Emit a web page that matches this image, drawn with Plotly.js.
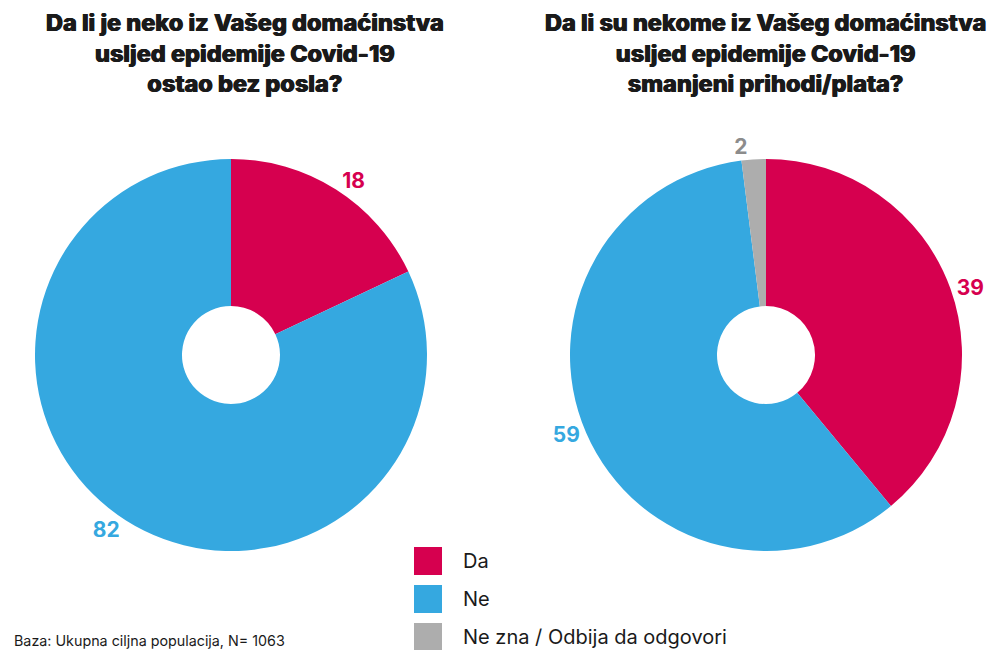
<!DOCTYPE html>
<html>
<head>
<meta charset="utf-8">
<script src="https://cdn.plot.ly/plotly-3.0.1.min.js"></script>
<style>html,body{margin:0;padding:0;background:#fff;}#chart{width:993px;height:650px;}</style>
</head>
<body>
<div id="chart"></div>
<script>
const leftTitle = 'Da li je neko iz Vašeg domaćinstva<br>usljed epidemije Covid-19<br>ostao bez posla?';
const rightTitle = 'Da li su nekome iz Vašeg domaćinstva<br>usljed epidemije Covid-19<br>smanjeni prihodi/plata?';
const leftCategories = ['Da', 'Ne'];
const leftValues = [18, 82];
const rightCategories = ['Da', 'Ne', 'Ne zna / Odbija da odgovori'];
const rightValues = [39, 59, 2];
const sliceColors = {'Da': '#D6004F', 'Ne': '#35A8E0', 'Ne zna / Odbija da odgovori': '#ADADAD'};
const labelColors = {'Da': '#D6004F', 'Ne': '#35A8E0', 'Ne zna / Odbija da odgovori': '#8C8C8C'};
const footnote = 'Baza: Ukupna ciljna populacija, N= 1063';

function pieTrace(cats, vals, xdom) {
  return {
    type: 'pie', labels: cats, values: vals, sort: false, direction: 'clockwise', rotation: 0,
    hole: 0.25, domain: {x: xdom, y: [0.1523, 0.7554]},
    marker: {colors: cats.map(c => sliceColors[c]), line: {width: 0}},
    textinfo: 'value', textposition: 'outside',
    outsidetextfont: {family: 'Inter', size: 21, weight: 700, color: cats.map(c => labelColors[c])},
    showlegend: false, hoverinfo: 'label+value'
  };
}
const data = [
  pieTrace(leftCategories, leftValues, [35/993, 427/993]),
  pieTrace(rightCategories, rightValues, [570/993, 962/993])
];
const titleFont = {family: 'Inter', size: 23.5, weight: 800, color: '#1a1a1a',
  shadow: '0.5px 0 0 #1a1a1a, -0.5px 0 0 #1a1a1a'};
const annotations = [
  {text: leftTitle, x: 245/993, y: 1 - 6/650, xref: 'paper', yref: 'paper', xanchor: 'center', yanchor: 'top', showarrow: false, font: titleFont},
  {text: rightTitle, x: 765/993, y: 1 - 6/650, xref: 'paper', yref: 'paper', xanchor: 'center', yanchor: 'top', showarrow: false, font: titleFont},
  {text: footnote, x: 12/993, y: 1 - 640/650, xref: 'paper', yref: 'paper', xanchor: 'left', yanchor: 'middle', showarrow: false, font: {family: 'Inter', size: 14.3, color: '#1a1a1a'}}
];
const shapes = [];
rightCategories.forEach((c, i) => {
  const yc = 561 + i * 38;
  shapes.push({type: 'rect', xref: 'paper', yref: 'paper', x0: 414/993, x1: 442/993, y0: 1 - (yc + 14)/650, y1: 1 - (yc - 14)/650, fillcolor: sliceColors[c], line: {width: 0}});
  annotations.push({text: c, x: 461/993, y: 1 - yc/650, xref: 'paper', yref: 'paper', xanchor: 'left', yanchor: 'middle', showarrow: false, font: {family: 'Inter', size: 20, color: '#1a1a1a'}});
});
const layout = {
  width: 993, height: 650, margin: {l: 0, r: 0, t: 0, b: 0},
  paper_bgcolor: '#fff', plot_bgcolor: '#fff', showlegend: false,
  annotations: annotations, shapes: shapes
};
Plotly.newPlot('chart', data, layout, {displayModeBar: false, staticPlot: true});
</script>
</body>
</html>
